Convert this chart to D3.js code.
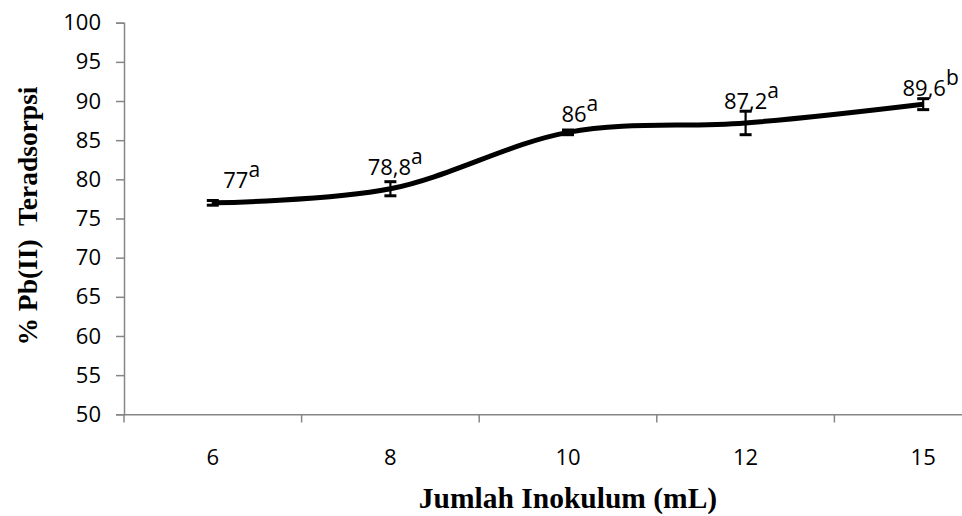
<!DOCTYPE html>
<html><head><meta charset="utf-8">
<script src="https://cdn.jsdelivr.net/npm/d3@7/dist/d3.min.js"></script>
<style>html,body{margin:0;padding:0;background:#fff;}svg{display:block;}</style>
</head><body><svg id="c" width="962" height="516"></svg>
<script>
const categories = ["6", "8", "10", "12", "15"];
const values = [77, 78.8, 86, 87.2, 89.6];
const errors = [0.3, 0.9, 0.3, 1.5, 0.7];
const letters = ["a", "a", "a", "a", "b"];
const yTicks = [50, 55, 60, 65, 70, 75, 80, 85, 90, 95, 100];
const xTitle = "Jumlah Inokulum (mL)";
const yTitle = "% Pb(II)  Teradsorpsi";

// label nudges (layout only)
const labelDx = [23, -1, 6, 0, 1];
const labelDy = [-15, -14, -10, -14, -8];

const svg = d3.select("#c");
const x = d3.scaleBand().domain(categories).range([124, 1012]).padding(0);
const y = d3.scaleLinear().domain([50, 100]).range([414.3, 22.7]);
const font = "'Open Sans', sans-serif";
const serif = "'Liberation Serif', 'Times New Roman', serif";
const axisColor = "#868686";
const fs = 22;

// Y axis
const gy = svg.append("g").attr("transform", "translate(124,0)")
  .call(d3.axisLeft(y).tickValues(yTicks).tickSize(8).tickPadding(15));
gy.select(".domain").attr("stroke", axisColor).attr("stroke-width", 1.5);
gy.selectAll(".tick line").attr("stroke", axisColor).attr("stroke-width", 1.5);
gy.selectAll(".tick text").attr("font-family", font).attr("font-size", fs).attr("fill", "#000");

// X axis
const gx = svg.append("g").attr("transform", "translate(0,414.3)")
  .call(d3.axisBottom(x).tickSize(0).tickPadding(35));
gx.select(".domain").attr("stroke", axisColor).attr("stroke-width", 1.5);
gx.selectAll(".tick text").attr("font-family", font).attr("font-size", fs).attr("fill", "#000");
// boundary ticks
const bounds = categories.map(c => x(c)).concat([x(categories[categories.length-1]) + x.bandwidth()]);
svg.append("g").selectAll("line").data(bounds).join("line")
  .attr("x1", d => d).attr("x2", d => d).attr("y1", 414.3).attr("y2", 422.5)
  .attr("stroke", axisColor).attr("stroke-width", 1.5);

const cx = i => x(categories[i]) + x.bandwidth() / 2;

// Line
const line = d3.line().x((d, i) => cx(i)).y(d => y(d)).curve(d3.curveCardinal.tension(0));
svg.append("path").datum(values).attr("d", line)
  .attr("fill", "none").attr("stroke", "#000").attr("stroke-width", 5).attr("stroke-linecap", "butt");

// Error bars
const eb = svg.append("g").attr("stroke", "#000");
values.forEach((v, i) => {
  const xc = cx(i);
  eb.append("line").attr("x1", xc).attr("x2", xc).attr("y1", y(v - errors[i])).attr("y2", y(v + errors[i])).attr("stroke-width", 2.2);
  [v - errors[i], v + errors[i]].forEach(e => {
    eb.append("line").attr("x1", xc - 6).attr("x2", xc + 6).attr("y1", y(e)).attr("y2", y(e)).attr("stroke-width", 3);
  });
});

// Labels
const fmt = v => d3.format("~g")(v).replace(".", ",");
values.forEach((v, i) => {
  const t = svg.append("text")
    .attr("y", y(v) + labelDy[i])
    .attr("font-family", font).attr("font-size", fs).attr("fill", "#000");
  const num = t.append("tspan").text(fmt(v));
  const w = num.node().getComputedTextLength();
  t.attr("x", cx(i) + labelDx[i] - w / 2);
  t.append("tspan").text(letters[i]).attr("dy", -11).attr("font-size", 21);
});

// Axis titles
svg.append("text").attr("x", 568).attr("y", 508).attr("text-anchor", "middle")
  .attr("font-family", serif).attr("font-weight", "bold")
  .attr("font-size", 29.5).text(xTitle);
svg.append("text").attr("transform", "translate(37,216) rotate(-90)").attr("text-anchor", "middle")
  .attr("font-family", serif).attr("font-weight", "bold")
  .attr("font-size", 27.5)
  .attr("xml:space", "preserve").style("white-space", "pre").text(yTitle);
</script></body></html>
